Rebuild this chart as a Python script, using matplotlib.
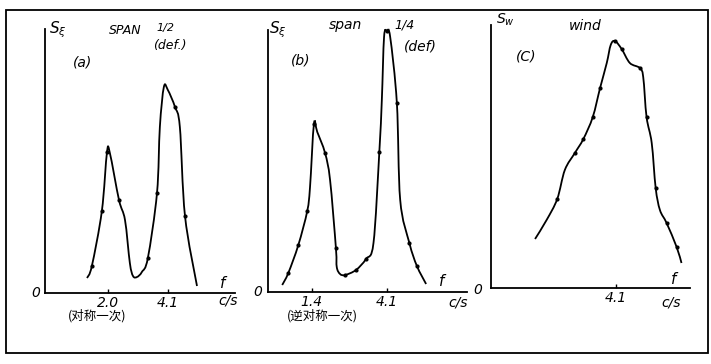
import numpy as np
import matplotlib
matplotlib.use('Agg')
import matplotlib.pyplot as plt
from matplotlib.patches import Rectangle, PathPatch
from matplotlib.path import Path

plt.rcParams['font.family'] = ['DejaVu Sans', 'Noto Sans CJK SC']

# (a) span 1/2 deflection spectrum
fa = [1.27, 1.44, 1.79, 1.97, 2.07, 2.39, 2.60, 2.77, 2.88, 3.02, 3.19, 3.40,
      3.72, 3.82, 3.96, 4.10, 4.35, 4.52, 4.70, 5.12]
sa = [15, 27, 82, 141, 140, 93, 73, 30, 17, 16, 21, 35,
      100, 166, 206, 203, 186, 166, 77, 7]
ma = [0, 1, 1, 1, 0, 1, 0, 0, 0, 0, 0, 1, 1, 0, 0, 0, 1, 0, 1, 0]

# (b) span 1/4 deflection spectrum
fb = [0.34, 0.56, 0.92, 1.24, 1.34, 1.48, 1.60, 1.88, 2.06, 2.27, 2.30, 2.42,
      2.60, 2.99, 3.35, 3.62, 3.83, 3.92, 4.00, 4.10, 4.22, 4.46, 4.58, 4.91,
      5.18, 5.51]
sb = [7, 19, 47, 81, 105, 168, 160, 139, 112, 44, 25, 18,
      17, 22, 33, 49, 140, 192, 255, 261, 255, 189, 92, 49,
      26, 8]
mb = [0, 1, 1, 1, 0, 1, 0, 1, 0, 1, 0, 0, 1, 1, 1, 0, 1, 0, 0, 1, 0, 1, 0, 1, 1, 0]

# (c) wind spectrum
fc = [1.45, 1.83, 2.18, 2.43, 2.76, 3.04, 3.35, 3.59, 3.81, 3.94, 4.08, 4.30,
      4.57, 4.90, 5.01, 5.12, 5.29, 5.42, 5.56, 5.78, 6.11, 6.27]
sc = [49, 68, 89, 118, 135, 149, 171, 200, 225, 243, 247, 239,
      225, 220, 211, 171, 145, 100, 78, 65, 41, 25]
mc = [0, 0, 1, 0, 1, 1, 1, 1, 0, 0, 1, 1, 0, 1, 0, 1, 0, 1, 0, 1, 1, 0]

ticks_a = [2.0, 4.1]
ticks_b = [1.4, 4.1]
ticks_c = [4.1]
tlabels_a = ['2.0', '4.1']
tlabels_b = ['1.4', '4.1']
tlabels_c = ['4.1']

W, H = 711, 364
fig = plt.figure(figsize=(W / 100, H / 100), dpi=100)


def fx(px):
    return px / W


def fy(py):
    return 1 - py / H


def smooth(x, y):
    # Catmull-Rom through the read points, drawn as cubic Bezier segments
    p = np.column_stack([x, y]).astype(float)
    p = np.vstack([p[0], p, p[-1]])
    verts = [p[1]]
    codes = [Path.MOVETO]
    for i in range(1, len(p) - 2):
        c1 = p[i] + (p[i + 1] - p[i - 1]) / 6
        c2 = p[i + 1] - (p[i + 2] - p[i]) / 6
        verts += [c1, c2, p[i + 1]]
        codes += [Path.CURVE4] * 3
    return Path(verts, codes)


def panel(left, right, bottom, top, xlim, ylim, f, s, m, ticks, tlabels):
    ax = fig.add_axes([fx(left), fy(bottom), fx(right - left), (bottom - top) / H])
    ax.add_patch(PathPatch(smooth(f, s), fill=False, edgecolor='black', lw=1.3,
                           clip_on=False))
    fm = [x for x, k in zip(f, m) if k]
    sm = [y for y, k in zip(s, m) if k]
    ax.plot(fm, sm, 'o', color='black', ms=2, clip_on=False)
    ax.set_xlim(*xlim)
    ax.set_ylim(*ylim)
    for sp in ['top', 'right']:
        ax.spines[sp].set_visible(False)
    ax.spines['left'].set_linewidth(1.3)
    ax.spines['bottom'].set_linewidth(1.3)
    ax.set_yticks([])
    ax.set_xticks(ticks)
    ax.set_xticklabels(tlabels, fontstyle='italic', fontsize=10)
    ax.tick_params(axis='x', direction='in', length=3, width=1, pad=2)
    ax.patch.set_alpha(0)
    return ax


panel(45, 235, 293, 29, (-0.2, 6.45), (0, 264), fa, sa, ma, ticks_a, tlabels_a)
panel(268, 467, 292, 30, (-0.17, 6.98), (0, 262), fb, sb, mb, ticks_b, tlabels_b)
panel(491, 690, 288, 25, (0, 6.55), (0, 263), fc, sc, mc, ticks_c, tlabels_c)

# outer frame
fig.patches.append(Rectangle((fx(6), fy(353)), fx(702), (353 - 10) / H,
                             transform=fig.transFigure, fill=False,
                             edgecolor='black', lw=1.3))


def txt(px, py, s, size=10, **kw):
    fig.text(fx(px), fy(py), s, fontsize=size, fontstyle='italic',
             ha='center', va='center', **kw)


cjk = ['Noto Sans CJK SC', 'DejaVu Sans']

# panel (a) text
txt(58, 30, r'$S_\xi$', 11)
txt(125, 30, 'SPAN', 9)
txt(165, 28, '1/2', 8)
txt(170, 46, '(def.)', 9)
txt(83, 62, '(a)', 10)
txt(36, 293, '0', 10)
txt(223, 284, 'f', 11)
txt(228, 301, 'c/s', 10)
fig.text(fx(97), fy(316), '(对称一次)', fontsize=9, family=cjk, ha='center', va='center')

# panel (b) text
txt(278, 30, r'$S_\xi$', 11)
txt(345, 25, 'span', 10)
txt(405, 25, '1/4', 9)
txt(420, 46, '(def)', 10)
txt(301, 61, '(b)', 10)
txt(258, 292, '0', 10)
txt(442, 281, 'f', 11)
txt(458, 303, 'c/s', 10)
fig.text(fx(322), fy(316), '(逆对称一次)', fontsize=9, family=cjk, ha='center', va='center')

# panel (c) text
txt(505, 20, r'$S_w$', 10)
txt(585, 26, 'wind', 10)
txt(526, 57, '(C)', 10)
txt(478, 290, '0', 10)
txt(674, 280, 'f', 11)
txt(671, 302, 'c/s', 10)

fig.savefig('out.png', dpi=100)
